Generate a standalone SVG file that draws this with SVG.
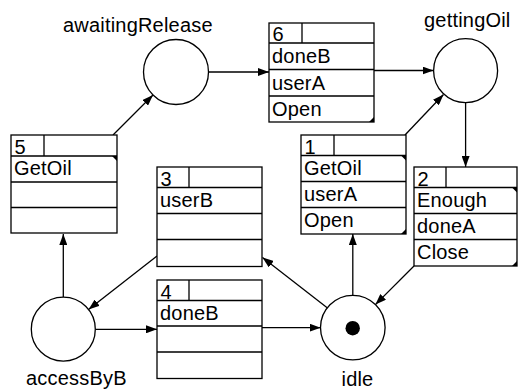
<svg xmlns="http://www.w3.org/2000/svg" width="518" height="390" viewBox="0 0 518 390">
<style>
.bx{fill:#fff;stroke:#000;stroke-width:1.3}
.ln{stroke:#000;stroke-width:1.3;fill:none}
.pl{fill:#fff;stroke:#000;stroke-width:1.3}
.t{font-family:"Liberation Sans",Arial,Helvetica,sans-serif;font-size:20px;letter-spacing:0.2px;fill:#000}
.cn{stroke:#000;stroke-width:1.3;fill:none;marker-end:url(#ah)}
.mk{fill:#000}
</style>
<defs>
<marker id="ah" markerUnits="userSpaceOnUse" markerWidth="11" markerHeight="8" refX="11" refY="4" orient="auto">
<path d="M0,0 L11,4 L0,8 z" fill="#000"/>
</marker>
</defs>
<g id="connectors">
<line class="cn" x1="63.3" y1="297" x2="63.3" y2="234"/>
<line class="cn" x1="113" y1="135" x2="153" y2="95"/>
<line class="cn" x1="208.5" y1="72" x2="269" y2="72"/>
<line class="cn" x1="374" y1="70.5" x2="433.5" y2="70.5"/>
<line class="cn" x1="465.6" y1="102.7" x2="465.6" y2="167"/>
<line class="cn" x1="405" y1="135" x2="443.5" y2="94.5"/>
<line class="cn" x1="352.8" y1="295.5" x2="352.8" y2="234"/>
<line class="cn" x1="414" y1="266" x2="375.4" y2="304.6"/>
<line class="cn" x1="327.5" y1="307.9" x2="262.5" y2="257.5"/>
<line class="cn" x1="157" y1="256" x2="88.5" y2="309.4"/>
<line class="cn" x1="95.5" y1="329.3" x2="157" y2="329.3"/>
<line class="cn" x1="262" y1="327.7" x2="320.7" y2="327.7"/>
</g>
<g id="awaitingRelease">
<circle class="pl" cx="176" cy="72" r="32.5"/>
<text class="t" x="63" y="32">awaitingRelease</text>
</g>
<g id="gettingOil">
<circle class="pl" cx="465.6" cy="70.7" r="32"/>
<text class="t" x="424" y="27">gettingOil</text>
</g>
<g id="accessByB">
<circle class="pl" cx="63.3" cy="329.2" r="32"/>
<text class="t" x="26" y="385">accessByB</text>
</g>
<g id="idle">
<circle class="pl" cx="352.8" cy="327.6" r="32.3"/>
<circle cx="352.7" cy="328.2" r="7.2" fill="#000"/>
<text class="t" x="341.5" y="386">idle</text>
</g>
<g id="t5" transform="translate(11,135)">
<rect class="bx" x="0" y="0" width="106" height="98"/>
<path class="ln" d="M0,21H106M0,47H106M0,72.5H106M33,0V21"/>
<path class="mk" d="M101,21H106V26z"/>
<text class="t" x="3.5" y="18.5">5</text>
<text class="t" x="3" y="40">GetOil</text>
</g>
<g id="t6" transform="translate(269,23)">
<rect class="bx" x="0" y="0" width="105" height="99"/>
<path class="ln" d="M0,20H105M0,46.5H105M0,73H105M33,0V20"/>
<path class="mk" d="M105,94V99H100z"/>
<text class="t" x="3.5" y="18">6</text>
<text class="t" x="3" y="40">doneB</text>
<text class="t" x="3" y="66.5">userA</text>
<text class="t" x="3" y="92.5">Open</text>
</g>
<g id="t3" transform="translate(157,167)">
<rect class="bx" x="0" y="0" width="105" height="99.5"/>
<path class="ln" d="M0,20.5H105M0,46.5H105M0,72.5H105M32,0V20.5"/>
<text class="t" x="3.5" y="18.5">3</text>
<text class="t" x="3" y="40">userB</text>
</g>
<g id="t4" transform="translate(157,280)">
<rect class="bx" x="0" y="0" width="105" height="98.5"/>
<path class="ln" d="M0,20.5H105M0,46H105M0,72H105M32,0V20.5"/>
<text class="t" x="3.5" y="18.5">4</text>
<text class="t" x="3" y="39.5">doneB</text>
</g>
<g id="t1" transform="translate(301,135)">
<rect class="bx" x="0" y="0" width="105" height="99"/>
<path class="ln" d="M0,20.5H105M0,46.5H105M0,72.5H105M33,0V20.5"/>
<path class="mk" d="M100,20.5H105V25.5z"/>
<path class="mk" d="M105,94V99H100z"/>
<text class="t" x="3.5" y="18.5">1</text>
<text class="t" x="3" y="39.5">GetOil</text>
<text class="t" x="3" y="65.5">userA</text>
<text class="t" x="3" y="91.5">Open</text>
</g>
<g id="t2" transform="translate(414,167)">
<rect class="bx" x="0" y="0" width="103" height="99"/>
<path class="ln" d="M0,20.5H103M0,46.5H103M0,72.5H103M32,0V20.5"/>
<path class="mk" d="M98,20.5H103V25.5z"/>
<path class="mk" d="M103,94V99H98z"/>
<text class="t" x="3.5" y="18.5">2</text>
<text class="t" x="3" y="40">Enough</text>
<text class="t" x="3" y="66">doneA</text>
<text class="t" x="3" y="92">Close</text>
</g>
</svg>
